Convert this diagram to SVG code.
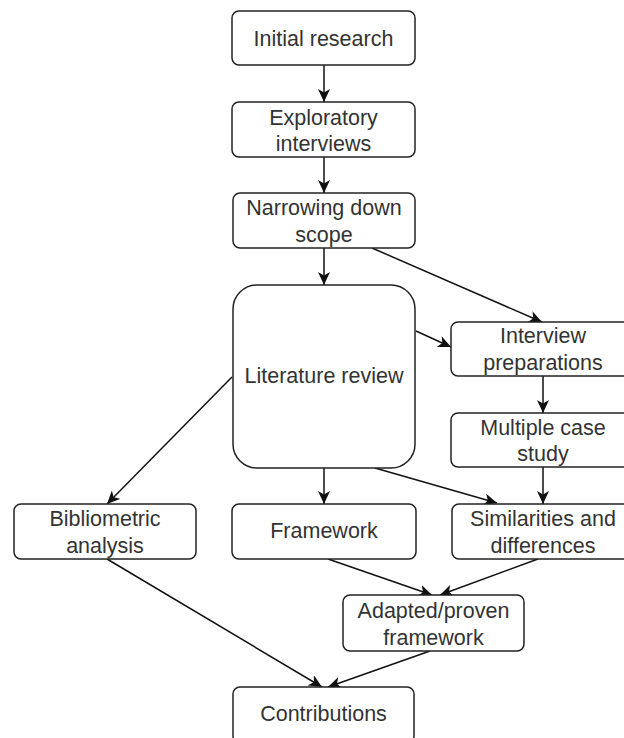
<svg xmlns="http://www.w3.org/2000/svg" width="624" height="738" viewBox="0 0 624 738">
  <style>
    .box { fill: #ffffff; stroke: #222222; stroke-width: 1.5; }
    .lbl { font-family: "Liberation Sans", Arial, sans-serif; font-size: 21.5px; fill: #333333; text-anchor: middle; }
    .edge { fill: none; stroke: #111111; stroke-width: 1.5; marker-end: url(#arrow); }
  </style>
  <defs>
    <marker id="arrow" markerUnits="userSpaceOnUse" markerWidth="14" markerHeight="12" refX="13" refY="6" orient="auto">
      <path d="M0,0 L13,6 L0,12 L3.5,6 Z" fill="#111111"/>
    </marker>
  </defs>
  <rect width="624" height="738" fill="#ffffff"/>

  <g id="connectors">
    <line class="edge" x1="324" y1="65" x2="324" y2="102"/>
    <line class="edge" x1="324" y1="157" x2="324" y2="193"/>
    <line class="edge" x1="324" y1="248" x2="324" y2="285"/>
    <line class="edge" x1="372" y1="248" x2="542" y2="322"/>
    <line class="edge" x1="416" y1="331" x2="451" y2="347"/>
    <line class="edge" x1="543" y1="376" x2="543" y2="413"/>
    <line class="edge" x1="232" y1="377" x2="107" y2="504"/>
    <line class="edge" x1="324" y1="468" x2="324" y2="504"/>
    <line class="edge" x1="375" y1="468" x2="497" y2="503"/>
    <line class="edge" x1="543" y1="467" x2="543" y2="504"/>
    <line class="edge" x1="328" y1="559" x2="432" y2="595"/>
    <line class="edge" x1="538" y1="559" x2="440" y2="595"/>
    <line class="edge" x1="107" y1="559" x2="322" y2="687"/>
    <line class="edge" x1="430" y1="651" x2="328" y2="687"/>
  </g>

  <g id="initial-research">
    <rect class="box" x="232" y="11" width="183" height="54" rx="7"/>
    <text class="lbl" x="323.5" y="45.5">Initial research</text>
  </g>
  <g id="exploratory-interviews">
    <rect class="box" x="232" y="102" width="183" height="55" rx="7"/>
    <text class="lbl" x="323.5" y="124.5">Exploratory</text>
    <text class="lbl" x="323.5" y="151">interviews</text>
  </g>
  <g id="narrowing-down-scope">
    <rect class="box" x="233" y="193" width="182" height="55" rx="7"/>
    <text class="lbl" x="324" y="214.5">Narrowing down</text>
    <text class="lbl" x="324" y="242">scope</text>
  </g>
  <g id="literature-review">
    <rect class="box" x="233" y="285" width="182" height="183" rx="24"/>
    <text class="lbl" x="324" y="383">Literature review</text>
  </g>
  <g id="interview-preparations">
    <rect class="box" x="451" y="322" width="186" height="54" rx="7"/>
    <text class="lbl" x="543" y="342.5">Interview</text>
    <text class="lbl" x="543" y="369.5">preparations</text>
  </g>
  <g id="multiple-case-study">
    <rect class="box" x="451" y="413" width="186" height="54" rx="7"/>
    <text class="lbl" x="543" y="434.5">Multiple case</text>
    <text class="lbl" x="543" y="461">study</text>
  </g>
  <g id="bibliometric-analysis">
    <rect class="box" x="14" y="504" width="182" height="55" rx="7"/>
    <text class="lbl" x="105" y="525.5">Bibliometric</text>
    <text class="lbl" x="105" y="552.5">analysis</text>
  </g>
  <g id="framework">
    <rect class="box" x="232" y="504" width="184" height="55" rx="7"/>
    <text class="lbl" x="324" y="538">Framework</text>
  </g>
  <g id="similarities-and-differences">
    <rect class="box" x="452" y="504" width="185" height="55" rx="7"/>
    <text class="lbl" x="543" y="525.5">Similarities and</text>
    <text class="lbl" x="543" y="552.5">differences</text>
  </g>
  <g id="adapted-proven-framework">
    <rect class="box" x="343" y="595" width="181" height="56" rx="7"/>
    <text class="lbl" x="433.5" y="617.5">Adapted/proven</text>
    <text class="lbl" x="433.5" y="644.5">framework</text>
  </g>
  <g id="contributions">
    <rect class="box" x="233" y="687" width="181" height="56" rx="7"/>
    <text class="lbl" x="323.5" y="720.5">Contributions</text>
  </g>
</svg>
